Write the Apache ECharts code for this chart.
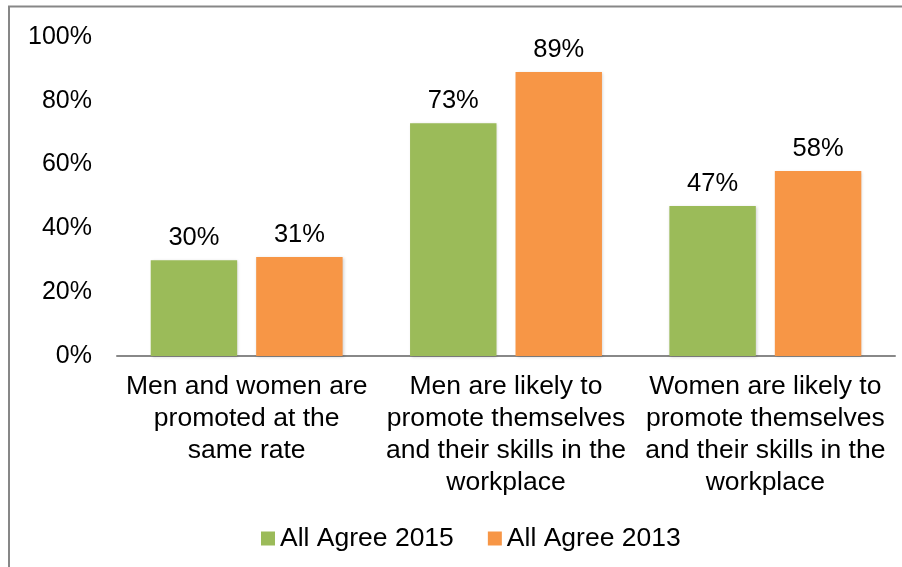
<!DOCTYPE html>
<html>
<head>
<meta charset="utf-8">
<script src="https://cdn.jsdelivr.net/npm/echarts@6/dist/echarts.min.js"></script>
<style>
  html, body { margin: 0; padding: 0; background: #fff; }
  #chart { width: 902px; height: 567px; }
</style>
</head>
<body>
<div id="chart"></div>
<script>
// Survey statements (x-axis categories), one line per row of the label
const categories = [
  'Men and women are\npromoted at the\nsame rate',
  'Men are likely to\npromote themselves\nand their skills in the\nworkplace',
  'Women are likely to\npromote themselves\nand their skills in the\nworkplace'
];
// Share agreeing, percent
const agree2015 = [30, 73, 47];
const agree2013 = [31, 89, 58];
const seriesNames = ['All Agree 2015', 'All Agree 2013'];
const yTicks = [0, 20, 40, 60, 80, 100];

const FONT = '"Liberation Sans", Arial, sans-serif';
const FS = 26.5;
const GREEN = '#9BBB59';
const ORANGE = '#F79646';

const chart = echarts.init(document.getElementById('chart'), null, { renderer: 'canvas' });

const barStyle = (color) => ({
  color: color,
  shadowBlur: 3,
  shadowColor: 'rgba(0,0,0,0.18)',
  shadowOffsetX: 1,
  shadowOffsetY: 1
});

const valueLabel = {
  show: true,
  position: 'top',
  distance: 9,
  formatter: (p) => p.value + '%',
  color: '#000',
  fontFamily: FONT,
  fontSize: 25.5
};

chart.setOption({
  animation: false,
  backgroundColor: '#fff',
  textStyle: { fontFamily: FONT },
  graphic: [
    { type: 'line', shape: { x1: 9, y1: 6, x2: 9, y2: 567 }, style: { stroke: '#878787', lineWidth: 2 } },
    { type: 'line', shape: { x1: 8, y1: 6.5, x2: 902, y2: 6.5 }, style: { stroke: '#878787', lineWidth: 2 } }
  ],
  grid: { left: 117, right: 7, top: 37, bottom: 211, containLabel: false },
  legend: {
    data: seriesNames,
    left: 256,
    top: 520,
    itemWidth: 14,
    itemHeight: 14,
    itemGap: 34,
    icon: 'rect',
    textStyle: { color: '#000', fontFamily: FONT, fontSize: FS, padding: [0, 0, 0, 0] }
  },
  xAxis: {
    type: 'category',
    data: categories,
    axisLine: { show: true, lineStyle: { color: '#888', width: 2 } },
    axisTick: { show: false },
    axisLabel: {
      interval: 0,
      margin: 15,
      color: '#000',
      fontFamily: FONT,
      fontSize: FS,
      lineHeight: 32,
      align: 'center'
    }
  },
  yAxis: {
    type: 'value',
    min: yTicks[0],
    max: yTicks[yTicks.length - 1],
    interval: yTicks[1] - yTicks[0],
    axisLine: { show: false },
    axisTick: { show: false },
    splitLine: { show: false },
    axisLabel: {
      margin: 25,
      color: '#000',
      fontFamily: FONT,
      fontSize: 25,
      formatter: (v) => v + '%'
    }
  },
  series: [
    {
      name: seriesNames[0],
      type: 'bar',
      data: agree2015,
      itemStyle: barStyle(GREEN),
      label: valueLabel,
      barGap: '22%',
      barCategoryGap: '26%'
    },
    {
      name: seriesNames[1],
      type: 'bar',
      data: agree2013,
      itemStyle: barStyle(ORANGE),
      label: valueLabel,
      barGap: '22%',
      barCategoryGap: '26%'
    }
  ]
});
</script>
</body>
</html>
